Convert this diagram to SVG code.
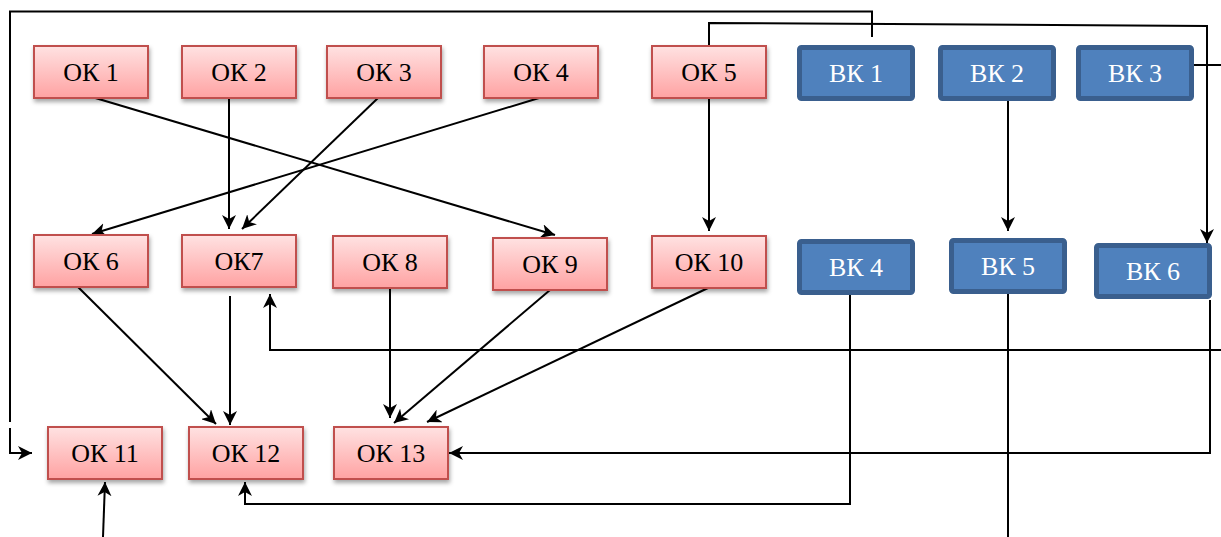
<svg xmlns="http://www.w3.org/2000/svg" width="1221" height="537" viewBox="0 0 1221 537">
<style>
.ok rect{fill:url(#rg);stroke:#C0504D;stroke-width:2;filter:url(#sh)}
.vk rect{fill:#4F81BD;stroke:#3A5F8E;stroke-width:5}
text{font-family:"Liberation Serif","Times New Roman",serif;font-size:26px;text-anchor:middle}
.ok text{fill:#000}
.vk text{fill:#fff}
#connectors path,#connectors line{fill:none;stroke:#000;stroke-width:2}
.a{marker-end:url(#ah)}
</style>
<defs>
<linearGradient id="rg" x1="0" y1="0" x2="0" y2="1">
<stop offset="0" stop-color="#FFE2E2"/>
<stop offset="1" stop-color="#FFA2A2"/>
</linearGradient>
<filter id="sh" x="-10%" y="-10%" width="130%" height="140%">
<feDropShadow dx="1" dy="3" stdDeviation="2" flood-color="#000" flood-opacity="0.35"/>
</filter>
<marker id="ah" markerUnits="userSpaceOnUse" markerWidth="15" markerHeight="14" refX="14" refY="7" orient="auto">
<path d="M0,0 L14,7 L0,14 L4,7 Z" fill="#000"/>
</marker>
</defs>
<g id="connectors">
<path d="M10,422 V11.5 H872 V37"/>
<path class="a" d="M10,428 V453 H32"/>
<path class="a" d="M709,46 V23 L1207,26 V243"/>
<line x1="1194" y1="65" x2="1221" y2="65"/>
<line class="a" x1="92" y1="97" x2="555" y2="235"/>
<line class="a" x1="229" y1="98" x2="229" y2="229"/>
<line class="a" x1="378" y1="98" x2="242" y2="229"/>
<line class="a" x1="539" y1="98" x2="92" y2="234"/>
<line class="a" x1="709" y1="98" x2="709" y2="231"/>
<line class="a" x1="1008" y1="101" x2="1008" y2="231"/>
<line class="a" x1="78" y1="287" x2="216" y2="424"/>
<line class="a" x1="230" y1="296" x2="230" y2="425"/>
<line class="a" x1="390" y1="288" x2="390" y2="418"/>
<line class="a" x1="550" y1="290" x2="394" y2="423"/>
<line class="a" x1="708" y1="288" x2="427" y2="422"/>
<path class="a" d="M1221,350 H270 V294"/>
<path class="a" d="M850,295 V504 H245 V482"/>
<line x1="1008" y1="294" x2="1008" y2="537"/>
<path class="a" d="M1210,300 V453 H449"/>
<line class="a" x1="103" y1="537" x2="105" y2="482"/>
</g>
<g id="ok1" class="ok"><rect x="34" y="46" width="114" height="52"/><text x="91" y="81">ОК 1</text></g>
<g id="ok2" class="ok"><rect x="182" y="46" width="114" height="52"/><text x="239" y="81">ОК 2</text></g>
<g id="ok3" class="ok"><rect x="327" y="46" width="114" height="52"/><text x="384" y="81">ОК 3</text></g>
<g id="ok4" class="ok"><rect x="484" y="46" width="114" height="52"/><text x="541" y="81">ОК 4</text></g>
<g id="ok5" class="ok"><rect x="652" y="46" width="114" height="52"/><text x="709" y="81">ОК 5</text></g>
<g id="ok6" class="ok"><rect x="34" y="235" width="114" height="52"/><text x="91" y="270">ОК 6</text></g>
<g id="ok7" class="ok"><rect x="182" y="235" width="114" height="52"/><text x="239" y="270">ОК7</text></g>
<g id="ok8" class="ok"><rect x="333" y="236" width="114" height="52"/><text x="390" y="271">ОК 8</text></g>
<g id="ok9" class="ok"><rect x="493" y="238" width="114" height="52"/><text x="550" y="273">ОК 9</text></g>
<g id="ok10" class="ok"><rect x="652" y="236" width="114" height="52"/><text x="709" y="271">ОК 10</text></g>
<g id="ok11" class="ok"><rect x="48" y="427" width="114" height="52"/><text x="105" y="462">ОК 11</text></g>
<g id="ok12" class="ok"><rect x="189" y="427" width="114" height="52"/><text x="246" y="462">ОК 12</text></g>
<g id="ok13" class="ok"><rect x="334" y="427" width="114" height="52"/><text x="391" y="462">ОК 13</text></g>
<g id="vk1" class="vk"><rect x="799.5" y="47.5" width="113" height="51" rx="2"/><text x="856" y="82">ВК 1</text></g>
<g id="vk2" class="vk"><rect x="940.5" y="47.5" width="113" height="51" rx="2"/><text x="997" y="82">ВК 2</text></g>
<g id="vk3" class="vk"><rect x="1078.5" y="47.5" width="113" height="51" rx="2"/><text x="1135" y="82">ВК 3</text></g>
<g id="vk4" class="vk"><rect x="799.5" y="241.5" width="113" height="51" rx="2"/><text x="856" y="276">ВК 4</text></g>
<g id="vk5" class="vk"><rect x="951.5" y="240.5" width="113" height="51" rx="2"/><text x="1008" y="275">ВК 5</text></g>
<g id="vk6" class="vk"><rect x="1096.5" y="245.5" width="113" height="51" rx="2"/><text x="1153" y="280">ВК 6</text></g>
</svg>
